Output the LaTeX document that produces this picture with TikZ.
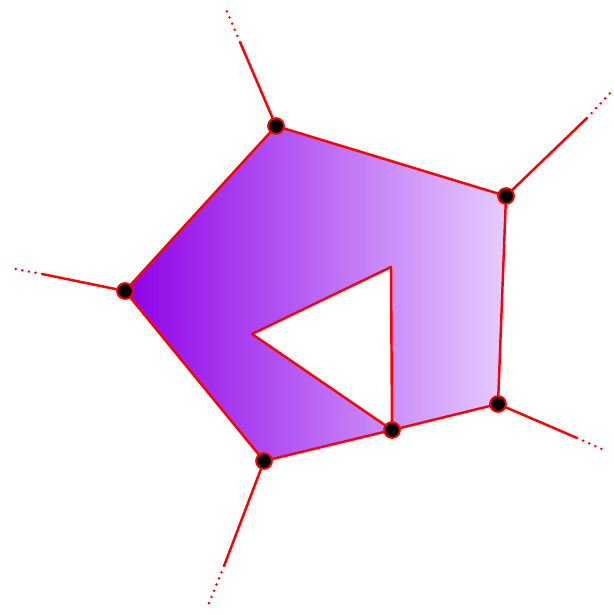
\documentclass[tikz,border=0pt]{standalone}
\usepackage{xcolor}
\usepackage{tikz}

\definecolor{cellleft}{RGB}{142,0,232}
\definecolor{cellright}{RGB}{230,204,255}

\tikzset{
    edge/.style={draw=red, line width=1.4pt},
    rayend/.style={draw=red, line width=1.6pt, line cap=round, dash pattern=on 0pt off 3.8pt},
    site/.style={circle, fill=black, draw=red, line width=1.1pt, inner sep=0pt, minimum size=9pt}
}

\begin{document}
\begin{tikzpicture}[x=0.02cm, y=-0.02cm]
    \useasboundingbox (0,0) rectangle (613,615);
    % Cell with a triangular hole
    \coordinate (a) at (276,126);
    \coordinate (b) at (506,196);
    \coordinate (c) at (498,404);
    \coordinate (d) at (392,430);
    \coordinate (e) at (264,461);
    \coordinate (f) at (125,291);
    \coordinate (h1) at (391,267);
    \coordinate (h2) at (252,334);

    \shade[left color=cellleft, right color=cellright]
        (a) -- (b) -- (c) -- (d) -- (h1) -- (h2) -- (d) -- (e) -- (f) -- cycle;
    \draw[edge, line join=round]
        (a) -- (b) -- (c) -- (d) -- (h1) -- (h2) -- (d) -- (e) -- (f) -- cycle;

    % Rays leaving the cell
    \coordinate (ra) at (240,42);   \coordinate (ta) at (225,7);
    \coordinate (rb) at (587,118);  \coordinate (tb) at (613,90);
    \coordinate (rc) at (577,438);  \coordinate (tc) at (604,450);
    \coordinate (re) at (224,566);  \coordinate (te) at (207,608);
    \coordinate (rf) at (42,274);   \coordinate (tf) at (10,268);
    \foreach \v in {a,b,c,e,f} {
        \draw[edge] (\v) -- (r\v);
        \draw[rayend] (r\v) -- (t\v);
    }

    % Vertices
    \foreach \v in {a,b,c,d,e,f}
        \node[site] (s\v) at (\v) {};
\end{tikzpicture}
\end{document}
